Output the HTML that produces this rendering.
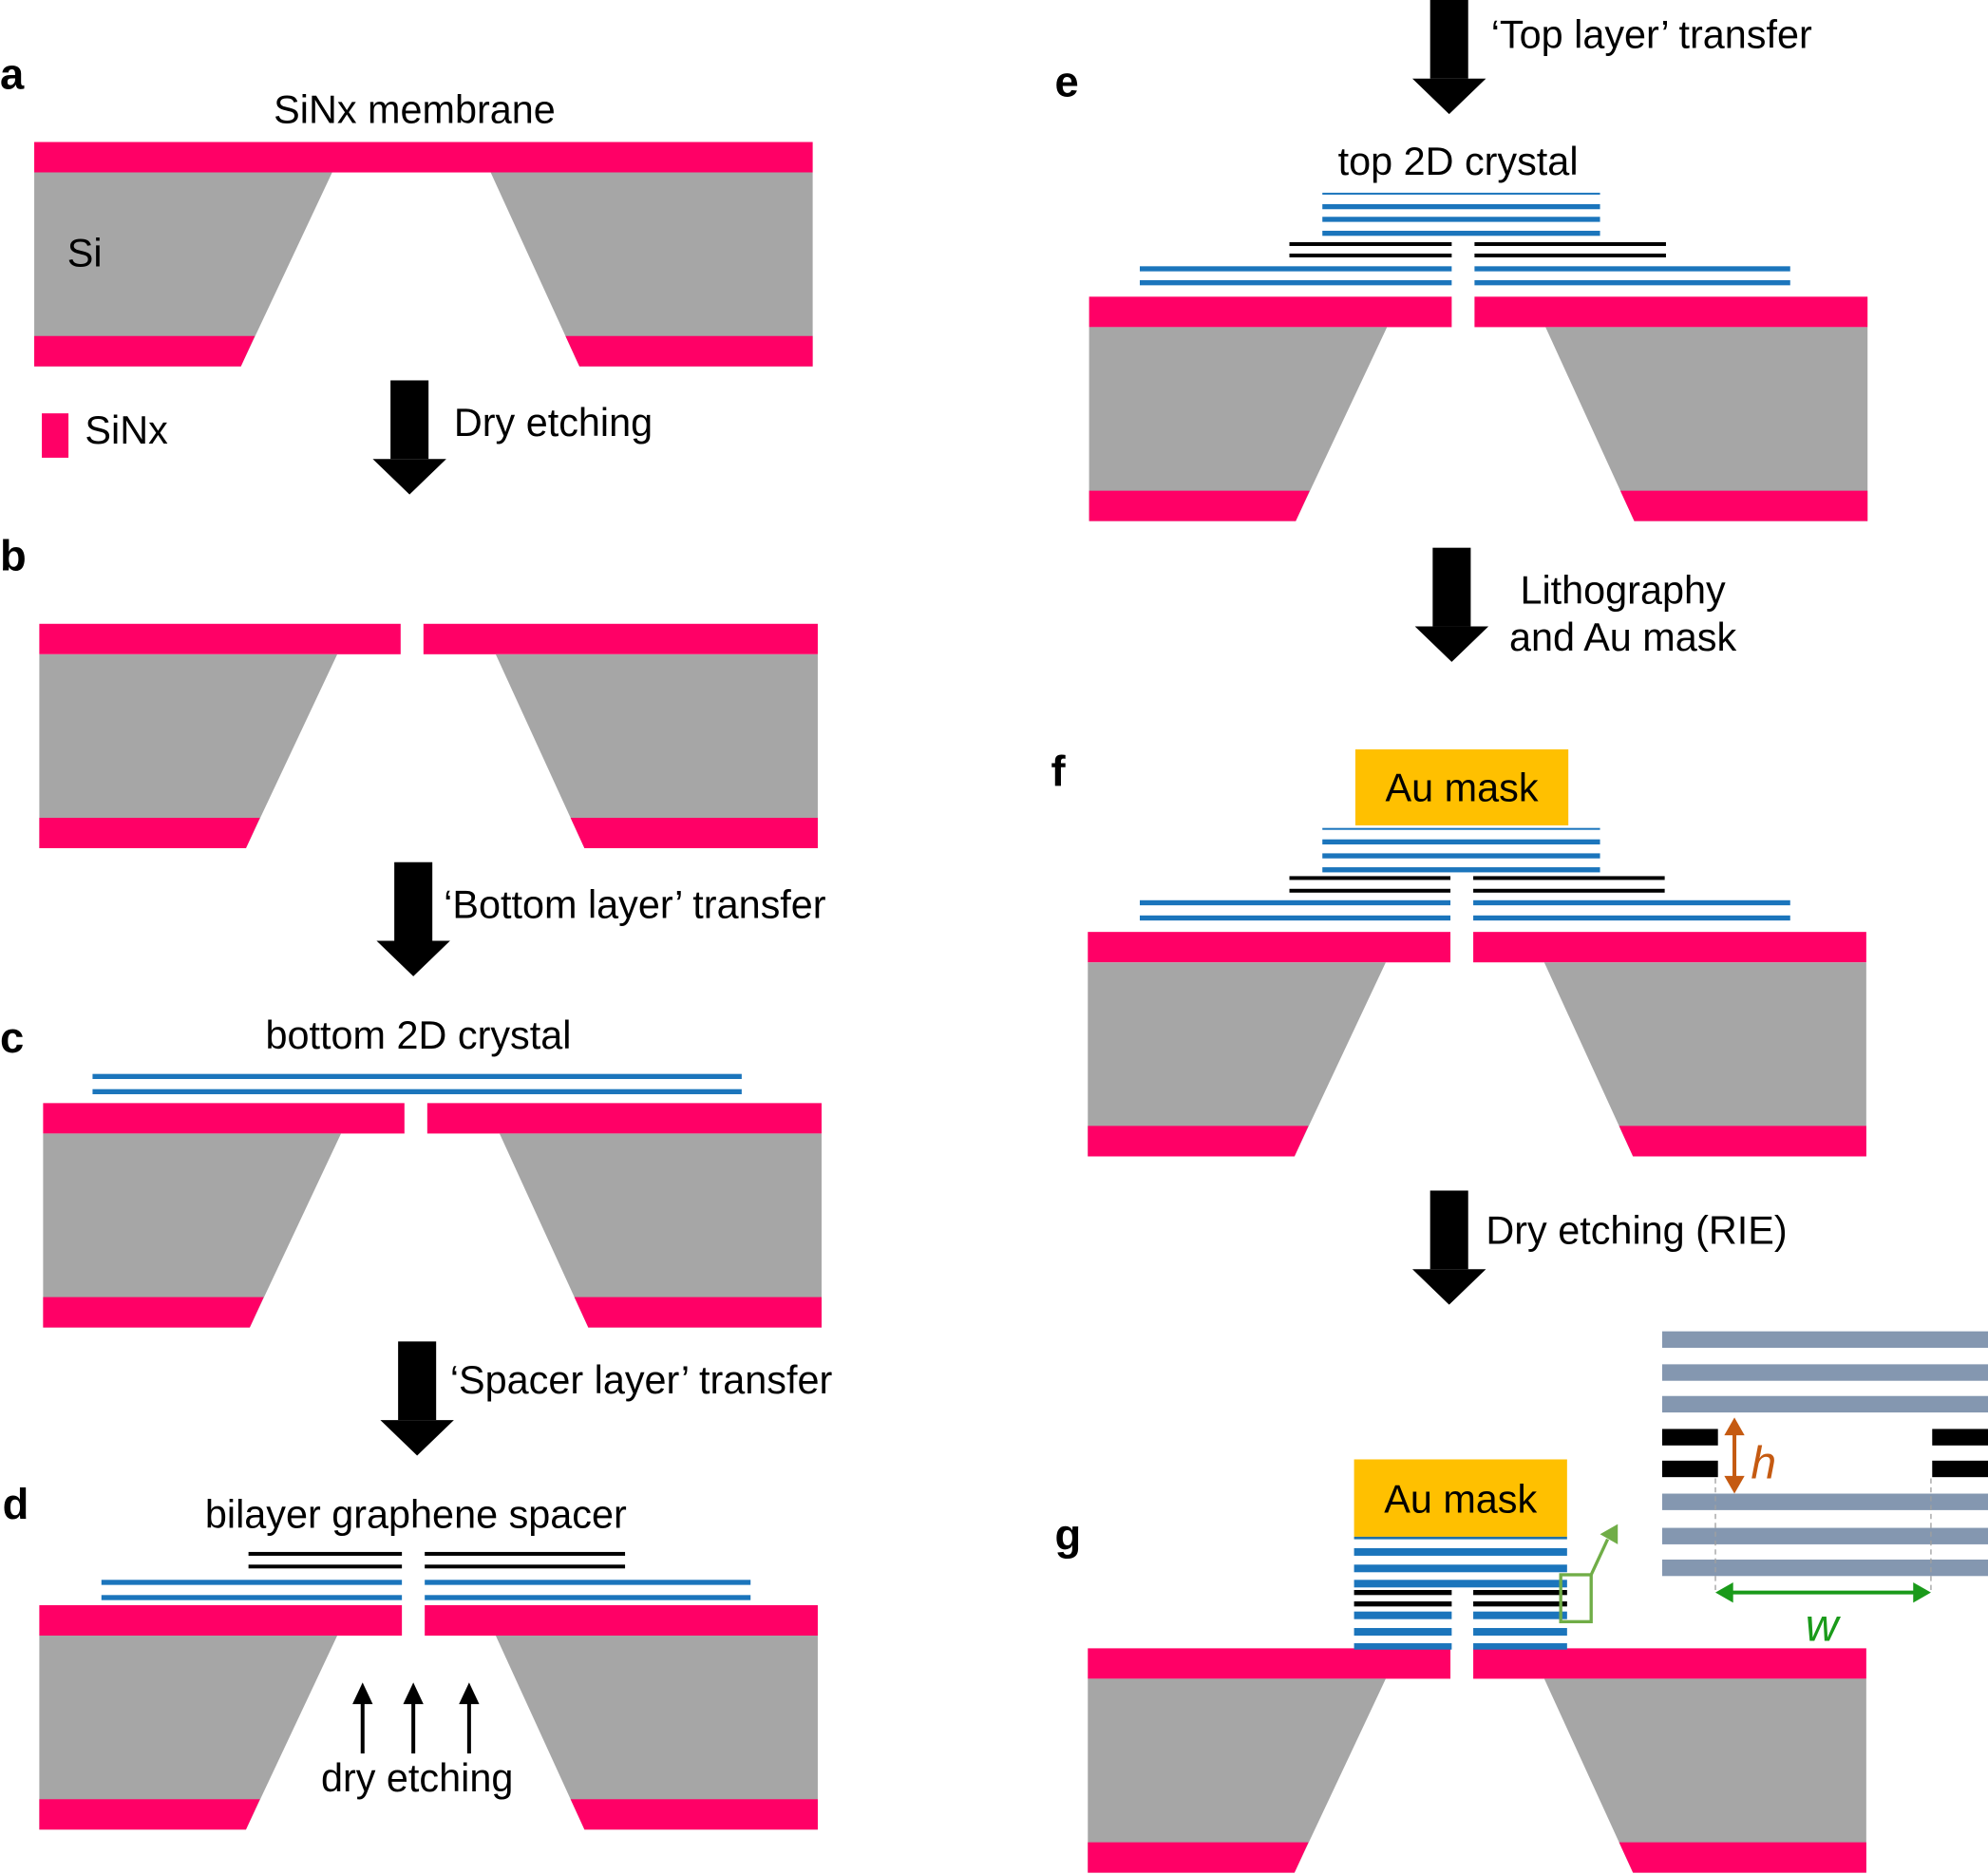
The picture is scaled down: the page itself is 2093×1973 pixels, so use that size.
<!DOCTYPE html>
<html><head><meta charset="utf-8"><style>
html,body{margin:0;padding:0;background:#fff;}
svg{display:block;}
text{font-family:"Liberation Sans",Arial,sans-serif;fill:#000;}
</style></head><body>
<svg width="2093" height="1973" viewBox="0 0 1568 1478" preserveAspectRatio="none" xmlns="http://www.w3.org/2000/svg">
<defs>
<g id="sub">
<rect x="0" y="0" width="614" height="24" fill="#ff0066"/>
<polygon points="0,24 235,24 163,177 0,177" fill="#a6a6a6"/>
<polygon points="0,153 174,153 163,177 0,177" fill="#ff0066"/>
<polygon points="360,24 614,24 614,177 430,177" fill="#a6a6a6"/>
<polygon points="419,153 614,153 614,177 430,177" fill="#ff0066"/>
</g>
<g id="arr">
<rect x="-15" y="0" width="30" height="62" fill="#000"/>
<polygon points="-29,62 29,62 0,90" fill="#000"/>
</g>
</defs>

<use href="#sub" x="27" y="112"/>
<use href="#sub" x="31" y="492"/><rect x="316" y="490" width="18" height="28" fill="#fff"/>
<use href="#sub" x="34" y="870"/><rect x="319" y="868" width="18" height="28" fill="#fff"/>
<use href="#sub" x="31" y="1266"/><rect x="317" y="1264" width="18" height="28" fill="#fff"/>
<use href="#sub" x="859" y="234"/><rect x="1145" y="232" width="18" height="28" fill="#fff"/>
<use href="#sub" x="858" y="735"/><rect x="1144" y="733" width="18" height="28" fill="#fff"/>
<use href="#sub" x="858" y="1300"/><rect x="1144" y="1298" width="18" height="28" fill="#fff"/>

<use href="#arr" x="323" y="300"/>
<use href="#arr" x="326" y="680"/>
<use href="#arr" x="329" y="1058"/>
<use href="#arr" x="1143" y="0"/>
<use href="#arr" x="1145" y="432"/>
<use href="#arr" x="1143" y="939"/>

<g font-weight="bold" font-size="34">
<text x="0" y="70">a</text><text x="0" y="450">b</text><text x="0" y="830">c</text>
<text x="2" y="1198">d</text><text x="832" y="76">e</text><text x="829" y="620">f</text><text x="832" y="1222">g</text>
</g>
<g font-size="31">
<text x="327" y="97" text-anchor="middle">SiNx membrane</text>
<text x="53" y="210">Si</text>
<text x="67" y="350">SiNx</text>
<text x="358" y="344">Dry etching</text>
<text x="350" y="724">‘Bottom layer’ transfer</text>
<text x="330" y="827" text-anchor="middle">bottom 2D crystal</text>
<text x="355" y="1099">‘Spacer layer’ transfer</text>
<text x="328" y="1205" text-anchor="middle">bilayer graphene spacer</text>
<text x="329" y="1413" text-anchor="middle">dry etching</text>
<text x="1176" y="38">‘Top layer’ transfer</text>
<text x="1150" y="138" text-anchor="middle">top 2D crystal</text>
<text x="1280" y="476" text-anchor="middle">Lithography</text>
<text x="1280" y="513" text-anchor="middle">and Au mask</text>
<text x="1172" y="981">Dry etching (RIE)</text>
</g>
<rect x="33" y="326" width="21" height="35" fill="#ff0066"/>

<rect x="73" y="847" width="512" height="4" fill="#1b75bc"/>
<rect x="73" y="859" width="512" height="4" fill="#1b75bc"/>

<g fill="#000">
<rect x="196" y="1224" width="121" height="3"/><rect x="335" y="1224" width="158" height="3"/>
<rect x="196" y="1234" width="121" height="3"/><rect x="335" y="1234" width="158" height="3"/>
</g>
<g fill="#1b75bc">
<rect x="80" y="1246" width="237" height="4"/><rect x="335" y="1246" width="257" height="4"/>
<rect x="80" y="1258" width="237" height="4"/><rect x="335" y="1258" width="257" height="4"/>
</g>
<g stroke="#000" stroke-width="3">
<line x1="286" y1="1383" x2="286" y2="1340"/><line x1="326" y1="1383" x2="326" y2="1340"/><line x1="370" y1="1383" x2="370" y2="1340"/>
</g>
<g fill="#000">
<polygon points="278,1344 294,1344 286,1327"/><polygon points="318,1344 334,1344 326,1327"/><polygon points="362,1344 378,1344 370,1327"/>
</g>

<g fill="#1b75bc">
<rect x="1043" y="152" width="219" height="1.5"/>
<rect x="1043" y="161" width="219" height="4"/>
<rect x="1043" y="171" width="219" height="4"/>
<rect x="1043" y="182" width="219" height="4"/>
<rect x="899" y="210" width="246" height="4"/><rect x="1163" y="210" width="249" height="4"/>
<rect x="899" y="221" width="246" height="4"/><rect x="1163" y="221" width="249" height="4"/>
</g>
<g fill="#000">
<rect x="1017" y="191" width="128" height="3"/><rect x="1163" y="191" width="151" height="3"/>
<rect x="1017" y="200" width="128" height="3"/><rect x="1163" y="200" width="151" height="3"/>
</g>

<rect x="1069" y="591" width="168" height="60" fill="#ffc000"/>
<text x="1153" y="632" font-size="31" text-anchor="middle">Au mask</text>
<g fill="#1b75bc">
<rect x="1043" y="653" width="219" height="1.5"/>
<rect x="1043" y="662" width="219" height="4"/>
<rect x="1043" y="673" width="219" height="4"/>
<rect x="1043" y="684" width="219" height="4"/>
<rect x="899" y="710" width="245" height="4"/><rect x="1162" y="710" width="250" height="4"/>
<rect x="899" y="722" width="245" height="4"/><rect x="1162" y="722" width="250" height="4"/>
</g>
<g fill="#000">
<rect x="1017" y="691" width="127" height="3"/><rect x="1162" y="691" width="151" height="3"/>
<rect x="1017" y="701" width="127" height="3"/><rect x="1162" y="701" width="151" height="3"/>
</g>

<rect x="1068" y="1151" width="168" height="61" fill="#ffc000"/>
<text x="1152" y="1193" font-size="31" text-anchor="middle">Au mask</text>
<rect x="1068" y="1212" width="168" height="2" fill="#1f6fa8"/>
<g fill="#1b75bc">
<rect x="1068" y="1221" width="168" height="6"/>
<rect x="1068" y="1234" width="168" height="6"/>
<rect x="1068" y="1246" width="168" height="6"/>
<rect x="1068" y="1271" width="77" height="6"/><rect x="1162" y="1271" width="74" height="6"/>
<rect x="1068" y="1284" width="77" height="6"/><rect x="1162" y="1284" width="74" height="6"/>
<rect x="1068" y="1296" width="77" height="5"/><rect x="1162" y="1296" width="74" height="5"/>
</g>
<g fill="#000">
<rect x="1068" y="1254" width="77" height="4"/><rect x="1162" y="1254" width="74" height="4"/>
<rect x="1068" y="1263" width="77" height="4"/><rect x="1162" y="1263" width="74" height="4"/>
</g>
<rect x="1231" y="1242" width="24" height="37" fill="none" stroke="#70ad47" stroke-width="2.5"/>
<line x1="1255" y1="1242" x2="1268" y2="1214" stroke="#70ad47" stroke-width="2.5"/>
<polygon points="1262,1210 1276,1202 1276,1218" fill="#70ad47"/>

<g fill="#8497b0">
<rect x="1311" y="1050" width="257" height="13"/>
<rect x="1311" y="1076" width="257" height="13"/>
<rect x="1311" y="1101" width="257" height="13"/>
<rect x="1311" y="1178" width="257" height="13"/>
<rect x="1311" y="1205" width="257" height="13"/>
<rect x="1311" y="1230" width="257" height="13"/>
</g>
<g fill="#000">
<rect x="1311" y="1127" width="44" height="13"/><rect x="1524" y="1127" width="44" height="13"/>
<rect x="1311" y="1152" width="44" height="13"/><rect x="1524" y="1152" width="44" height="13"/>
</g>
<g stroke="#a0a0a0" stroke-width="1" stroke-dasharray="4,3">
<line x1="1353" y1="1166" x2="1353" y2="1256"/><line x1="1523" y1="1166" x2="1523" y2="1256"/>
</g>
<line x1="1364" y1="1256" x2="1510" y2="1256" stroke="#1a9a1a" stroke-width="3"/>
<polygon points="1353,1256 1367,1248 1367,1264" fill="#1a9a1a"/>
<polygon points="1523,1256 1509,1248 1509,1264" fill="#1a9a1a"/>
<text x="1437" y="1294" font-size="36" font-style="italic" text-anchor="middle" style="fill:#1a9a1a">w</text>
<line x1="1368" y1="1130" x2="1368" y2="1166" stroke="#c55a11" stroke-width="3"/>
<polygon points="1368,1118 1360,1132 1376,1132" fill="#c55a11"/>
<polygon points="1368,1178 1360,1164 1376,1164" fill="#c55a11"/>
<text x="1381" y="1166" font-size="36" font-style="italic" style="fill:#c55a11">h</text>
</svg>
</body></html>
